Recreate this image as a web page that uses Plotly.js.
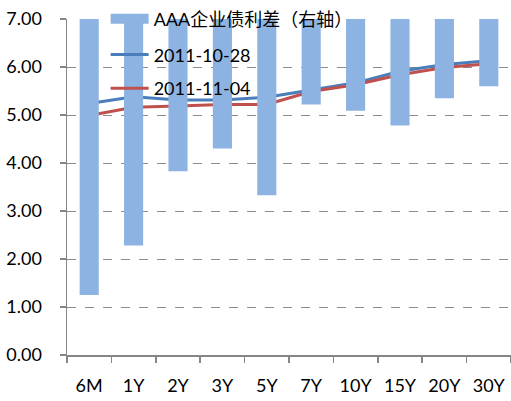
<!DOCTYPE html>
<html>
<head>
<meta charset="utf-8">
<script src="https://cdn.plot.ly/plotly-3.0.1.min.js"></script>
<style>html,body{margin:0;padding:0;background:#fff;}#chart{width:511px;height:401px;}</style>
</head>
<body>
<div id="chart"></div>
<script>
// Categories (tenors)
const tenors = ["6M","1Y","2Y","3Y","5Y","7Y","10Y","15Y","20Y","30Y"];
// AAA corporate spread (right axis, reversed; hanging bars)
const aaaSpread = [5.75, 4.72, 3.17, 2.70, 3.67, 1.78, 1.91, 2.22, 1.65, 1.40];
// Yield curves
const curve20111028 = [5.24, 5.38, 5.31, 5.31, 5.37, 5.52, 5.67, 5.91, 6.05, 6.13];
const curve20111104 = [4.99, 5.16, 5.19, 5.22, 5.22, 5.49, 5.63, 5.84, 5.99, 6.07];
const leftTicks = [0,1,2,3,4,5,6,7];
const leftTickText = leftTicks.map(v => v.toFixed(2));

const FONT = "Lato, 'Noto Sans CJK SC', sans-serif";
const BAR_COLOR = "#8DB3E2";

const traces = [
  {
    type: "bar", x: tenors, y: aaaSpread, yaxis: "y2",
    name: "AAA企业债利差（右轴）",
    marker: {color: BAR_COLOR}, width: 0.43,
    showlegend: false
  },
  {
    // legend swatch for the bar series (wide block like the original)
    type: "scatter", mode: "lines", x: [null], y: [null], yaxis: "y2",
    name: "AAA企业债利差（右轴）",
    line: {color: BAR_COLOR, width: 15},
    legend: "legend", hoverinfo: "skip"
  },
  {
    type: "scatter", mode: "lines", x: tenors, y: curve20111028,
    name: "2011-10-28", line: {color: "#4A7EBB", width: 3},
    legend: "legend2"
  },
  {
    type: "scatter", mode: "lines", x: tenors, y: curve20111104,
    name: "2011-11-04", line: {color: "#C0504D", width: 3},
    legend: "legend3"
  }
];

const legBase = {
  xanchor: "left", yanchor: "middle", bgcolor: "rgba(0,0,0,0)",
  font: {family: FONT, size: 18, color: "#000"}, borderwidth: 0,
  itemwidth: 38
};
const LX = 0.087;

const layout = {
  width: 511, height: 401,
  margin: {l: 67, r: 0, t: 17, b: 46},
  paper_bgcolor: "#fff", plot_bgcolor: "#fff",
  font: {family: FONT, size: 18, color: "#000"},
  xaxis: {
    type: "category",
    showline: true, linecolor: "#868686", linewidth: 1.5,
    ticks: "outside", tickson: "boundaries", ticklen: 6, tickcolor: "#868686", tickwidth: 1.5,
    showgrid: false, zeroline: false,
    ticklabelstandoff: 14,
    tickfont: {family: FONT, size: 18, color: "#000"}
  },
  yaxis: {
    range: [0, 7], tickvals: leftTicks, ticktext: leftTickText,
    showline: true, linecolor: "#868686", linewidth: 1.5,
    ticks: "outside", ticklen: 6, tickcolor: "#868686", tickwidth: 1.5,
    showgrid: true, gridcolor: "#8c8c8c", griddash: "dash", gridwidth: 1,
    zeroline: false,
    ticklabelstandoff: 14,
    tickfont: {family: FONT, size: 18, color: "#000"}
  },
  yaxis2: {
    overlaying: "y", side: "right", range: [7, 0],
    visible: false, showgrid: false, zeroline: false
  },
  legend: Object.assign({}, legBase, {x: LX, y: 1.0}),
  legend2: Object.assign({}, legBase, {x: LX, y: 0.8935}),
  legend3: Object.assign({}, legBase, {x: LX, y: 0.793}),
  showlegend: true
};

Plotly.newPlot("chart", traces, layout, {displayModeBar: false, staticPlot: true});
</script>
</body>
</html>
